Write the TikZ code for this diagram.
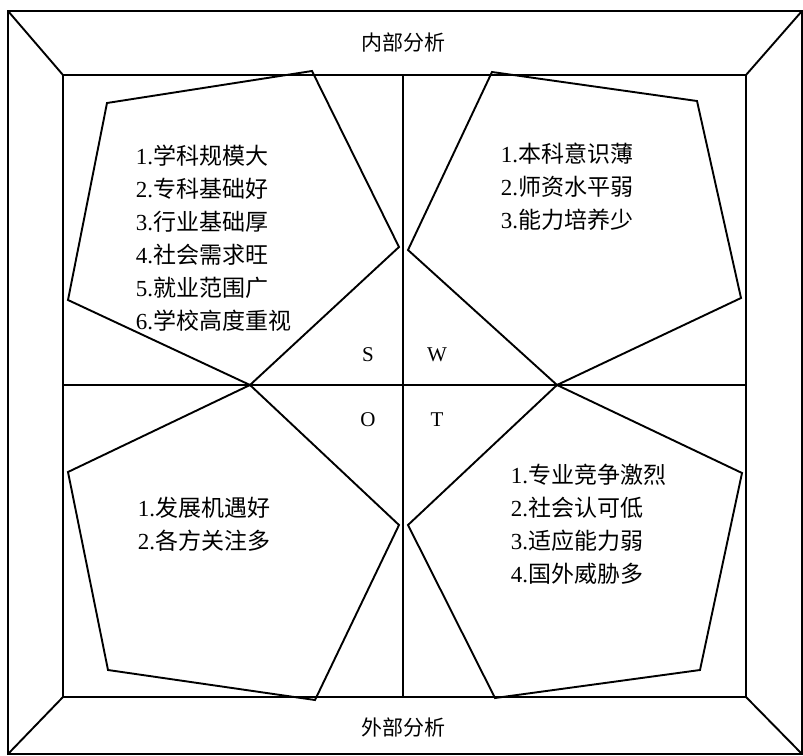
\documentclass[tikz,border=0pt]{standalone}
\usepackage{fontspec}
\setmainfont{Liberation Serif}
\newfontfamily\cjk{Noto Sans CJK SC}
\tikzset{every picture/.style={line width=1.9pt}}
\tikzset{
	list text/.style={anchor=west, align=left, inner sep=0pt, font=\fontsize{23}{33}\selectfont},
	letter text/.style={inner sep=0pt, font=\fontsize{21}{21}\selectfont},
	head text/.style={inner sep=0pt, font=\fontsize{21}{21}\selectfont\cjk}}

\begin{document}
\begin{tikzpicture}[x=1pt,y=1pt,yscale=-1,xscale=1]
	\useasboundingbox (0,0) rectangle (803,755);

	%Shape: Rectangle [outer frame]
	\draw (8,11) -- (802,11) -- (802,754) -- (8,754) -- cycle ;
	%Shape: Rectangle [inner frame]
	\draw (63,75) -- (746,75) -- (746,697) -- (63,697) -- cycle ;
	%Straight Lines [corners]
	\draw (8,11) -- (63,75) ;
	\draw (802,11) -- (746,75) ;
	\draw (8,754) -- (63,697) ;
	\draw (802,754) -- (746,697) ;
	%Straight Lines [cross]
	\draw (403,75) -- (403,697) ;
	\draw (63,385) -- (746,385) ;

	%Shape: Polygon [S]
	\draw (107,103) -- (312,71) -- (399,247) -- (250,385) -- (68,300) -- cycle ;
	%Shape: Polygon [W]
	\draw (408,250) -- (492,72) -- (697,101) -- (741,298) -- (557,385) -- cycle ;
	%Shape: Polygon [O]
	\draw (68,472) -- (250,385) -- (399,525) -- (315,700) -- (108,670) -- cycle ;
	%Shape: Polygon [T]
	\draw (408,525) -- (557,385) -- (742,473) -- (700,670) -- (495,698) -- cycle ;

	% Text Node
	\node[head text] (inner) at (403,43) {内部分析};
	% Text Node
	\node[head text] (outer) at (403,727) {外部分析};
	% Text Node
	\node[letter text] (S) at (368,355) {S};
	% Text Node
	\node[letter text] (W) at (437,355) {W};
	% Text Node
	\node[letter text] (O) at (368,420) {O};
	% Text Node
	\node[letter text] (T) at (437,420) {T};
	% Text Node
	\node[list text] (strengths) at (135,238) {1.{\cjk 学科规模大}\\2.{\cjk 专科基础好}\\3.{\cjk 行业基础厚}\\4.{\cjk 社会需求旺}\\5.{\cjk 就业范围广}\\6.{\cjk 学校高度重视}};
	% Text Node
	\node[list text] (weaknesses) at (500,187) {1.{\cjk 本科意识薄}\\2.{\cjk 师资水平弱}\\3.{\cjk 能力培养少}};
	% Text Node
	\node[list text] (chances) at (137,524) {1.{\cjk 发展机遇好}\\2.{\cjk 各方关注多}};
	% Text Node
	\node[list text] (threats) at (510,524) {1.{\cjk 专业竞争激烈}\\2.{\cjk 社会认可低}\\3.{\cjk 适应能力弱}\\4.{\cjk 国外威胁多}};

\end{tikzpicture}
\end{document}
